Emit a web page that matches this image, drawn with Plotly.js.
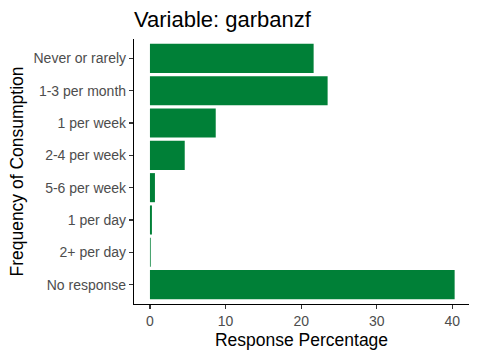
<!DOCTYPE html>
<html>
<head>
<meta charset="utf-8">
<script src="https://cdn.plot.ly/plotly-3.0.1.min.js"></script>
<style>html,body{margin:0;padding:0;background:#fff}#chart{width:480px;height:360px}</style>
</head>
<body>
<div id="chart"></div>
<script>
const categories = ["Never or rarely", "1-3 per month", "1 per week", "2-4 per week", "5-6 per week", "1 per day", "2+ per day", "No response"];
const percentages = [21.65, 23.5, 8.7, 4.6, 0.66, 0.26, 0.1, 40.3];
const xTicks = [0, 10, 20, 30, 40];

const trace = {
  type: "bar",
  orientation: "h",
  y: categories,
  x: percentages,
  marker: {color: "#008037", line: {width: 0}},
  width: 0.9,
  hoverinfo: "x+y"
};

const layout = {
  width: 480, height: 360,
  margin: {l: 134, r: 11, t: 39, b: 56},
  paper_bgcolor: "#ffffff",
  plot_bgcolor: "#ffffff",
  font: {family: "Liberation Sans, Arial, sans-serif", color: "#000"},
  showlegend: false,
  title: {
    text: "Variable: garbanzf",
    x: 0, xref: "paper", xanchor: "left",
    y: 1 - 19/360, yref: "container", yanchor: "middle",
    font: {size: 22, color: "#000"}
  },
  xaxis: {
    range: [-2.11, 42.2],
    tickvals: xTicks,
    ticktext: xTicks.map(String),
    showgrid: false, zeroline: false,
    showline: true, linecolor: "#000", linewidth: 1.1,
    ticks: "outside", ticklen: 4, tickcolor: "#333", tickwidth: 1.1,
    tickfont: {size: 14, color: "#4d4d4d"},
    title: {text: "Response Percentage", font: {size: 17.5, color: "#000"}, standoff: 5},
    automargin: false
  },
  yaxis: {
    type: "category",
    categoryorder: "array",
    categoryarray: categories,
    autorange: false,
    range: [7.6, -0.6],
    showgrid: false, zeroline: false,
    showline: true, linecolor: "#000", linewidth: 1.1,
    ticks: "outside", ticklen: 4, tickcolor: "#333", tickwidth: 1.1,
    tickfont: {size: 14, color: "#4d4d4d"},
    title: {text: "Frequency of Consumption", font: {size: 17.5, color: "#000"}, standoff: 5},
    automargin: false
  }
};

Plotly.newPlot("chart", [trace], layout, {displayModeBar: false, staticPlot: true});
</script>
</body>
</html>
